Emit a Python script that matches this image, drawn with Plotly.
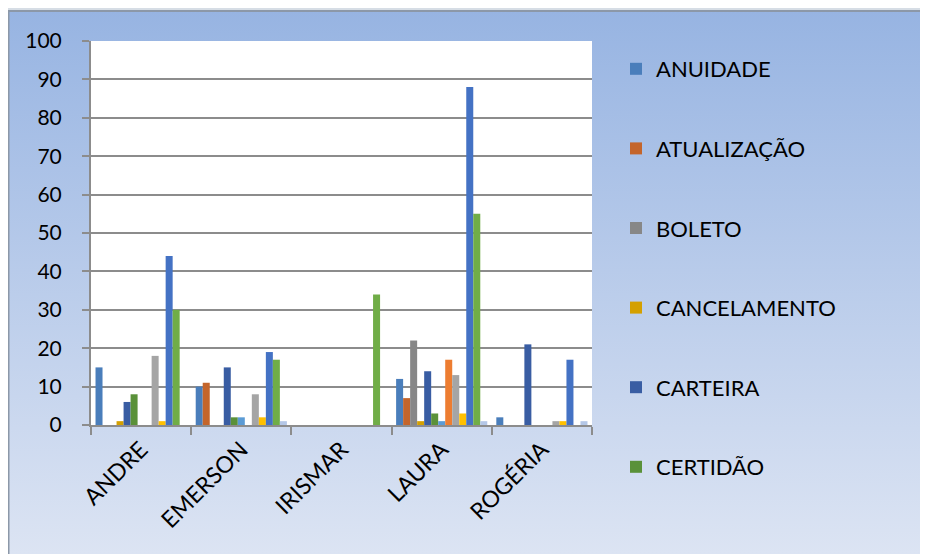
import base64
import plotly.graph_objs as go

categorias = ['ANDRE', 'EMERSON', 'IRISMAR', 'LAURA', 'ROGÉRIA']

anuidade = [15, 10, 0, 12, 2]
atualizacao = [0, 11, 0, 7, 0]
boleto = [0, 0, 0, 22, 0]
cancelamento = [1, 0, 0, 1, 0]
carteira = [6, 15, 0, 14, 21]
certidao = [8, 2, 0, 3, 0]
serie_7 = [0, 2, 0, 1, 0]
serie_8 = [0, 0, 0, 17, 0]
serie_9 = [18, 8, 0, 13, 1]
serie_10 = [1, 2, 0, 3, 1]
serie_11 = [44, 19, 0, 88, 17]
serie_12 = [30, 17, 34, 55, 0]
serie_13 = [0, 1, 0, 1, 1]

series = [
    ('ANUIDADE', anuidade, '#4A7EBB', True),
    ('ATUALIZAÇÃO', atualizacao, '#C4652B', True),
    ('BOLETO', boleto, '#878787', True),
    ('CANCELAMENTO', cancelamento, '#D4A000', True),
    ('CARTEIRA', carteira, '#395DA3', True),
    ('CERTIDÃO', certidao, '#5A9139', True),
    ('SÉRIE 7', serie_7, '#5B9BD5', False),
    ('SÉRIE 8', serie_8, '#ED7D31', False),
    ('SÉRIE 9', serie_9, '#A5A5A5', False),
    ('SÉRIE 10', serie_10, '#FFC000', False),
    ('SÉRIE 11', serie_11, '#4472C4', False),
    ('SÉRIE 12', serie_12, '#70AD47', False),
    ('SÉRIE 13', serie_13, '#B4C7E7', False),
]

fig = go.Figure()
for i, (nome, vals, cor, leg) in enumerate(series):
    fig.add_trace(go.Bar(
        x=categorias, y=vals, name=nome,
        marker=dict(color=cor, line=dict(width=0)),
        showlegend=leg, legendgroup='g%d' % i,
    ))

# gradient background for the chart area
svg = ('<svg xmlns="http://www.w3.org/2000/svg" width="100" height="100" preserveAspectRatio="none">'
       '<defs><linearGradient id="g" x1="0" y1="0" x2="0" y2="1">'
       '<stop offset="0" stop-color="#97B4E2"/><stop offset="1" stop-color="#DCE4F3"/>'
       '</linearGradient></defs>'
       '<rect width="100" height="100" fill="url(#g)"/></svg>')
src = 'data:image/svg+xml;base64,' + base64.b64encode(svg.encode()).decode()

# page body adds an 8px offset, so the figure is 920x546
FW, FH = 920, 546
L, R, T, B = 83, 584, 33, 417
W, H = R - L, B - T
x0 = (0 - L) / W
x1 = (FW - L) / W
y0 = (B - 3) / H
y1 = (B - FH) / H
xb = (0.5 - L) / W

fig.update_layout(
    width=FW, height=FH,
    margin=dict(l=L, r=FW - R, t=T, b=FH - B, pad=0),
    paper_bgcolor='#D6DDE5',
    plot_bgcolor='rgba(0,0,0,0)',
    barmode='group', bargap=0.09, bargroupgap=0,
    font=dict(family='Lato, Carlito, sans-serif', size=21, color='#000000'),
    images=[dict(source=src, xref='paper', yref='paper', x=x0, y=y0,
                 sizex=x1 - x0, sizey=y0 - y1, xanchor='left', yanchor='top',
                 sizing='stretch', layer='below')],
    shapes=[
        dict(type='rect', xref='paper', yref='paper', x0=0, x1=1, y0=0, y1=1,
             fillcolor='white', line=dict(width=0), layer='below'),
        dict(type='line', xref='paper', yref='paper', x0=x0, x1=x1, y0=y0, y1=y0,
             line=dict(color='#8C98A8', width=2), layer='below'),
        dict(type='line', xref='paper', yref='paper', x0=xb, x1=xb, y0=y0, y1=y1,
             line=dict(color='#8C98A8', width=2), layer='below'),
    ],
    legend=dict(
        xref='container', yref='container', x=608 / FW, y=1 - 40 / FH,
        xanchor='left', yanchor='top', bgcolor='rgba(0,0,0,0)',
        font=dict(size=22), tracegroupgap=48, itemwidth=30, maxheight=FH,
    ),
    xaxis=dict(
        tickangle=-45, showgrid=False, showline=True, linecolor='#8C8C8C', linewidth=2,
        ticks='outside', tickson='boundaries', ticklen=8, tickcolor='#8C8C8C', tickwidth=2,
        tickfont=dict(size=23),
    ),
    yaxis=dict(
        range=[0, 100], dtick=10, showgrid=True, gridcolor='#8C8C8C', gridwidth=2,
        showline=True, linecolor='#8C8C8C', linewidth=2,
        ticks='outside', ticklen=7, tickcolor='#8C8C8C', tickwidth=2,
        tickfont=dict(size=21), zeroline=False, ticklabelstandoff=16,
    ),
)

fig.write_html("out.html")
